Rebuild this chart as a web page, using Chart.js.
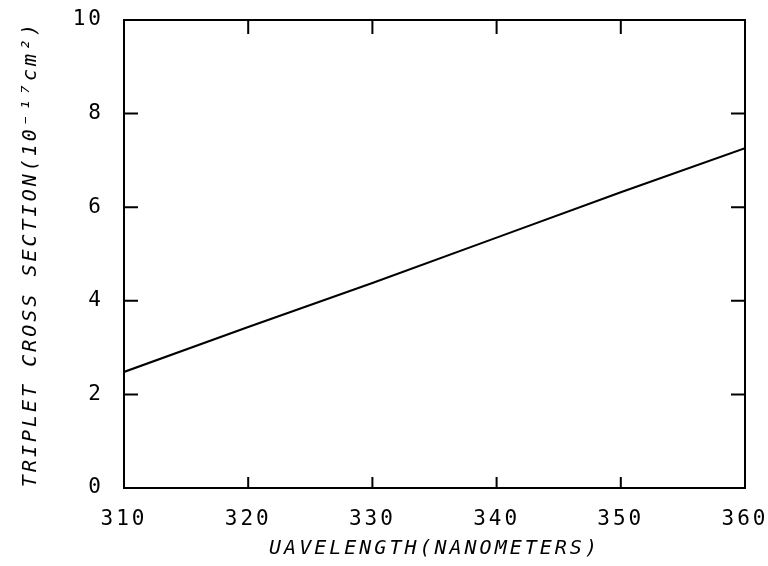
<!DOCTYPE html>
<html>
<head>
<meta charset="utf-8">
<script src="https://cdn.jsdelivr.net/npm/chart.js@4/dist/chart.umd.min.js"></script>
<style>
  html, body { margin: 0; padding: 0; background: #fff; }
  #wrap { width: 768px; height: 566px; }
</style>
</head>
<body>
<div id="wrap"><canvas id="c" width="768" height="566"></canvas></div>
<script>
// ---- data ----
const wavelengths = [310, 320, 330, 340, 350, 360];
const crossSection = [2.48, 3.44, 4.38, 5.35, 6.32, 7.26];
const xTicks = [310, 320, 330, 340, 350, 360];
const yTicks = [0, 2, 4, 6, 8, 10];
const xTitle = 'UAVELENGTH(NANOMETERS)';
const yTitle = 'TRIPLET CROSS SECTION(10\u207B\u00B9\u2077cm\u00B2)';

const points = wavelengths.map((w, i) => ({ x: w, y: crossSection[i] }));

const spacingPlugin = {
  id: 'spacing',
  beforeUpdate(chart) { chart.ctx.letterSpacing = '3px'; },
  beforeDraw(chart) { chart.ctx.letterSpacing = '3px'; }
};

const framePlugin = {
  id: 'frame',
  afterDraw(chart) {
    const { ctx, chartArea: a, scales } = chart;
    ctx.save();
    ctx.strokeStyle = '#000';
    ctx.lineWidth = 2;
    ctx.strokeRect(a.left, a.top, a.right - a.left, a.bottom - a.top);
    ctx.beginPath();
    xTicks.forEach(v => {
      const px = scales.x.getPixelForValue(v);
      ctx.moveTo(px, a.bottom); ctx.lineTo(px, a.bottom - 11);
      ctx.moveTo(px, a.top); ctx.lineTo(px, a.top + 14);
    });
    yTicks.forEach(v => {
      const py = scales.y.getPixelForValue(v);
      ctx.moveTo(a.left, py); ctx.lineTo(a.left + 14, py);
      ctx.moveTo(a.right, py); ctx.lineTo(a.right - 14, py);
    });
    ctx.stroke();
    ctx.restore();
  }
};

new Chart(document.getElementById('c'), {
  type: 'line',
  data: {
    datasets: [{
      data: points,
      borderColor: '#000',
      borderWidth: 2,
      pointRadius: 0,
      tension: 0,
      fill: false
    }]
  },
  options: {
    responsive: false,
    animation: false,
    devicePixelRatio: 1,
    layout: { padding: { left: 0, right: 23, top: 20, bottom: 0 } },
    plugins: { legend: { display: false }, tooltip: { enabled: false } },
    scales: {
      x: {
        type: 'linear',
        min: 310, max: 360,
        afterBuildTicks(s) { s.ticks = xTicks.map(v => ({ value: v })); },
        afterFit(s) { s.height = 78; s.paddingLeft = 0; s.paddingRight = 0; },
        grid: { display: false, drawTicks: false },
        border: { display: false },
        ticks: {
          padding: 19,
          color: '#000',
          font: { family: 'DejaVu Sans Mono', size: 21 },
          maxRotation: 0
        },
        title: {
          display: true,
          text: xTitle,
          color: '#000',
          font: { family: 'DejaVu Sans Mono', size: 20, style: 'italic' },
          padding: { top: 0, bottom: 5 }
        }
      },
      y: {
        type: 'linear',
        min: 0, max: 10,
        afterBuildTicks(s) { s.ticks = yTicks.map(v => ({ value: v })); },
        afterFit(s) { s.width = 124; s.paddingTop = 0; s.paddingBottom = 0; },
        grid: { display: false, drawTicks: false },
        border: { display: false },
        ticks: {
          padding: 20,
          color: '#000',
          font: { family: 'DejaVu Sans Mono', size: 21 }
        },
        title: {
          display: true,
          text: yTitle,
          color: '#000',
          font: { family: 'DejaVu Sans Mono', size: 20, style: 'italic' },
          padding: { top: 19, bottom: 0 }
        }
      }
    }
  },
  plugins: [spacingPlugin, framePlugin]
});
</script>
</body>
</html>
